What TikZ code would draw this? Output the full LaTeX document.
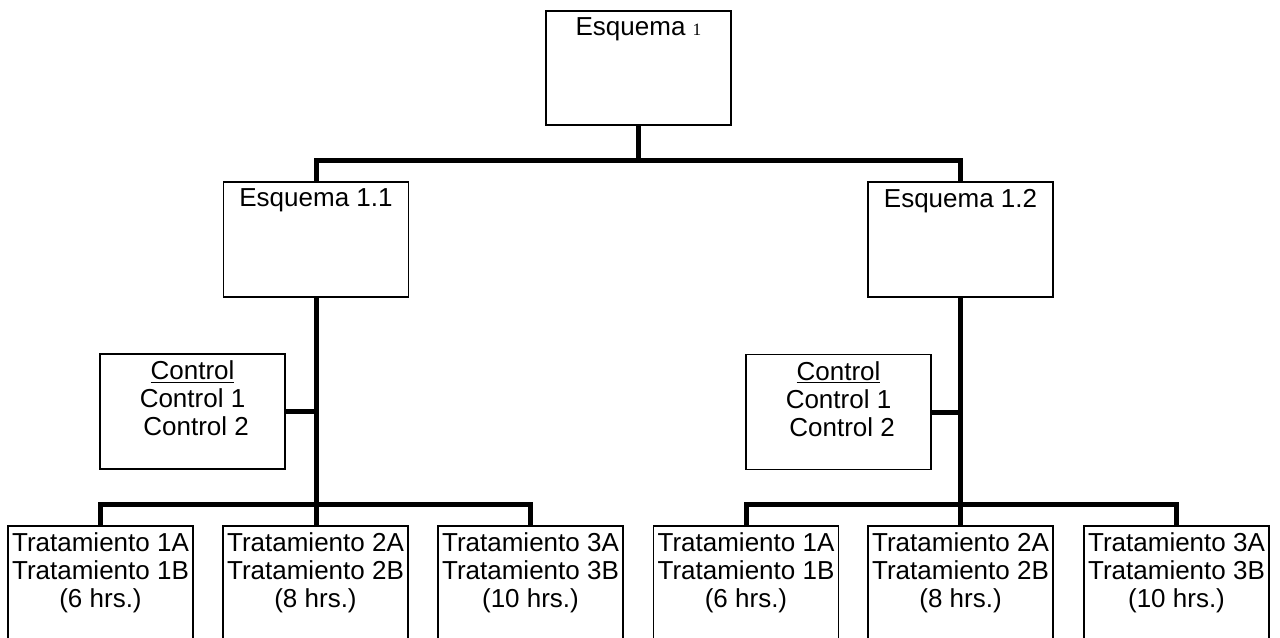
\documentclass[tikz,border=0pt]{standalone}
\usepackage{fontspec}
\setmainfont{Liberation Sans}
\newfontfamily\serifone{Liberation Serif}
\newcommand\bxtext[2]{\begin{minipage}[c][#1][t]{138.75pt}\centering\vspace*{5.25pt}#2\end{minipage}}
\begin{document}
\begin{tikzpicture}[x=0.75pt,y=-0.75pt,
  boxnode/.style={draw=black, line width=1pt, inner sep=0pt, fill=white,
    font=\fontsize{19.5pt}{21pt}\selectfont},
  bar/.style={line width=3.75pt, line join=miter}]
\useasboundingbox (0,0) rectangle (1280,637);
\clip (0,0) rectangle (1280,637);
\fill[white] (0,0) rectangle (1280,637);
% boxes
\node[boxnode] (top) at (638.5,68) {\bxtext{85.5pt}{Esquema {\serifone\fontsize{13pt}{14pt}\selectfont 1}}};
\node[boxnode] (e11) at (316,239.5) {\bxtext{86.25pt}{Esquema 1.1}};
\node[boxnode] (e12) at (960.5,239.5) {\bxtext{86.25pt}{Esquema 1.2}};
\node[boxnode] (c1) at (192.5,411.5) {\bxtext{86.25pt}{\underline{Control}\\Control 1\\\ Control 2}};
\node[boxnode] (c2) at (838.5,412) {\bxtext{86.25pt}{\underline{Control}\\Control 1\\\ Control 2}};
\node[boxnode] (t11) at (100.5,591) {\bxtext{97.5pt}{Tratamiento 1A\\Tratamiento 1B\\(6 hrs.)}};
\node[boxnode] (t12) at (315.5,591) {\bxtext{97.5pt}{Tratamiento 2A\\Tratamiento 2B\\(8 hrs.)}};
\node[boxnode] (t13) at (530.5,591) {\bxtext{97.5pt}{Tratamiento 3A\\Tratamiento 3B\\(10 hrs.)}};
\node[boxnode] (t21) at (746,591) {\bxtext{97.5pt}{Tratamiento 1A\\Tratamiento 1B\\(6 hrs.)}};
\node[boxnode] (t22) at (960.5,591) {\bxtext{97.5pt}{Tratamiento 2A\\Tratamiento 2B\\(8 hrs.)}};
\node[boxnode] (t23) at (1176.5,591) {\bxtext{97.5pt}{Tratamiento 3A\\Tratamiento 3B\\(10 hrs.)}};
% junction coordinates
\coordinate (j0) at (638.5,160);
\coordinate (j1) at (316,504);
\coordinate (j2) at (960.5,504);
% connectors
\draw[bar] (top.south) -- (j0);
\draw[bar] (e11.north) |- (j0) -| (e12.north);
\draw[bar] (e11.south) -- (t12.north -| e11.south);
\draw[bar] (e12.south) -- (t22.north -| e12.south);
\draw[bar] (c1.east) -- (c1.east -| e11.south);
\draw[bar] (c2.east) -- (c2.east -| e12.south);
\draw[bar] (t11.north) |- (j1) -| (t13.north);
\draw[bar] (t21.north) |- (j2) -| (t23.north);
\end{tikzpicture}
\end{document}
